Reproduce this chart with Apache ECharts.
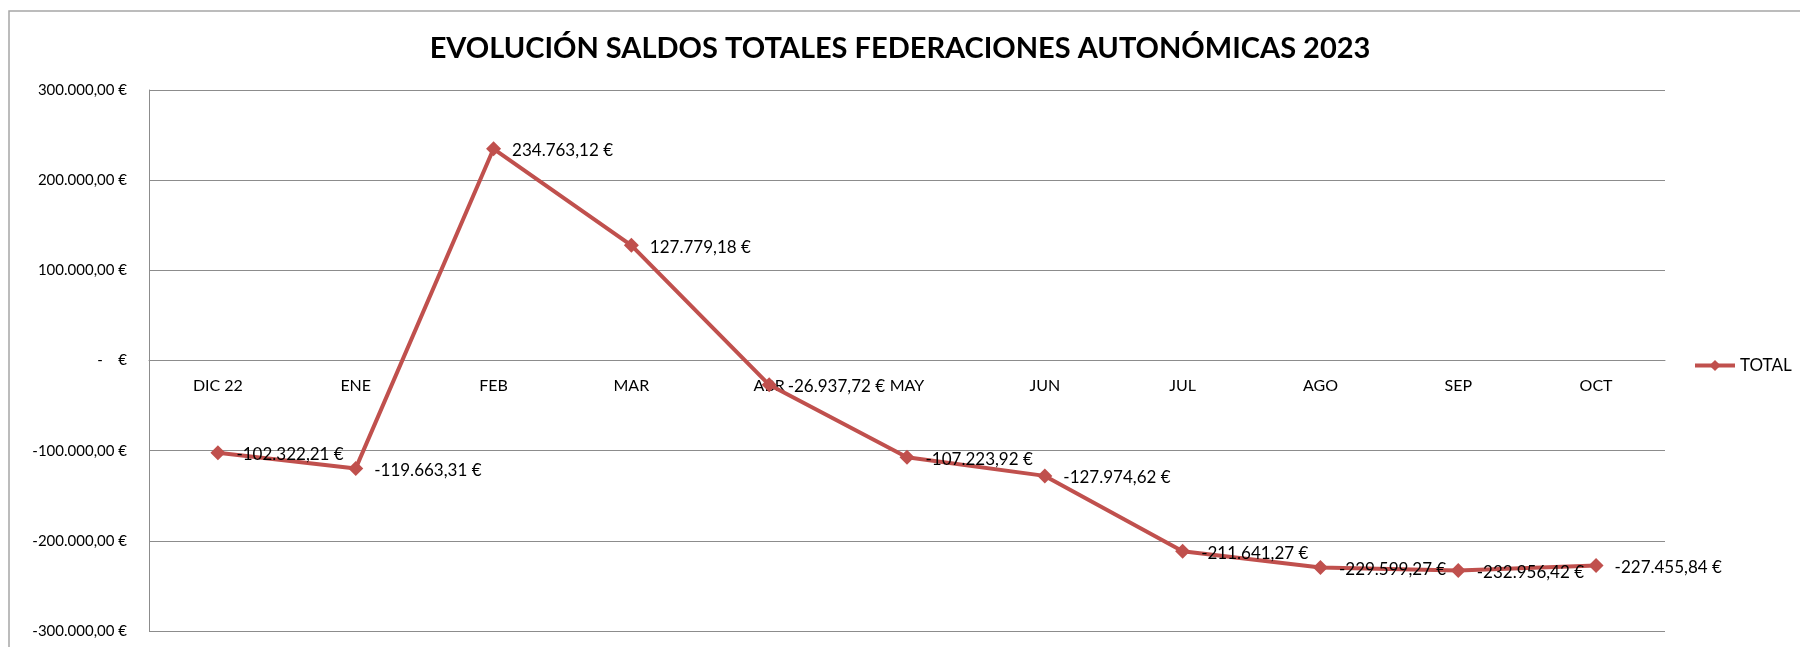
<!DOCTYPE html>
<html>
<head>
<meta charset="utf-8">
<script src="https://cdn.jsdelivr.net/npm/echarts@6/dist/echarts.min.js"></script>
<style>
html,body{margin:0;padding:0;background:#fff;}
#chart{width:1800px;height:647px;}
</style>
</head>
<body>
<div id="chart"></div>
<script>
const categories = ['DIC 22','ENE','FEB','MAR','ABR','MAY','JUN','JUL','AGO','SEP','OCT'];
const totalValues = [-102322.21,-119663.31,234763.12,127779.18,-26937.72,-107223.92,-127974.62,-211641.27,-229599.27,-232956.42,-227455.84];
const seriesName = 'TOTAL';
const titleText = 'EVOLUCIÓN SALDOS TOTALES FEDERACIONES AUTONÓMICAS 2023';
const yMin = -300000, yMax = 300000, yStep = 100000;

function fmtEuro(v, dec){
  const neg = v < 0;
  const a = Math.abs(v);
  let s = a.toFixed(dec);
  let parts = s.split('.');
  let intp = parts[0].replace(/\B(?=(\d{3})+(?!\d))/g, '.');
  let out = intp + (dec > 0 ? ',' + parts[1] : '');
  return (neg ? '-' : '') + out + ' €';
}

const gridTop = 90, gridBottom = 16, chartH = 647;
const plotH = chartH - gridTop - gridBottom;
// place category axis at value 0 (Excel "axis crosses at 0")
const zeroOffset = -plotH * (0 - yMin) / (yMax - yMin);

const chart = echarts.init(document.getElementById('chart'), null, {renderer:'canvas'});
const font = 'Lato, "Open Sans", sans-serif';
chart.setOption({
  animation:false,
  backgroundColor:'#fff',
  title:{
    text:titleText,
    left:'center',
    top:29,
    textStyle:{fontFamily:font,fontSize:29,fontWeight:'bold',color:'#000'}
  },
  legend:{
    data:[seriesName],
    left:1688,
    top:352,
    itemWidth:40,
    itemHeight:14,
    itemGap:4,
    lineStyle:{width:4},
    textStyle:{fontFamily:font,fontSize:17,color:'#000'}
  },
  grid:{left:149,right:135,top:gridTop,bottom:gridBottom,containLabel:false,outerBoundsMode:'none'},
  xAxis:{
    type:'category',
    data:categories,
    boundaryGap:true,
    offset:zeroOffset,
    axisLine:{onZero:false,lineStyle:{color:'#8c8c8c',width:1}},
    axisTick:{show:false},
    axisLabel:{margin:17,fontFamily:font,fontSize:16,color:'#000'},
    splitLine:{show:false}
  },
  yAxis:{
    type:'value',
    min:yMin,max:yMax,interval:yStep,
    axisLine:{show:true,lineStyle:{color:'#8c8c8c',width:1}},
    axisTick:{show:false},
    axisLabel:{
      margin:22,fontFamily:font,fontSize:15,color:'#000',
      formatter:function(v){ return v === 0 ? '-    €' : fmtEuro(v,2); }
    },
    splitLine:{show:true,lineStyle:{color:'#8c8c8c',width:1}}
  },
  series:[{
    name:seriesName,
    type:'line',
    data:totalValues,
    symbol:'diamond',
    symbolSize:15,
    z:3,
    lineStyle:{color:'#C0504D',width:4},
    itemStyle:{color:'#C0504D'},
    label:{
      show:true,position:'right',distance:11,offset:[0,2],
      fontFamily:font,fontSize:17,color:'#000',
      formatter:function(p){ return fmtEuro(p.value,2); }
    }
  }],
  graphic:[{
    type:'rect',
    shape:{x:9,y:11,width:2000,height:1000},
    style:{fill:'none',stroke:'#a6a6a6',lineWidth:1.5},
    silent:true,z:-1
  }]
});
</script>
</body>
</html>
